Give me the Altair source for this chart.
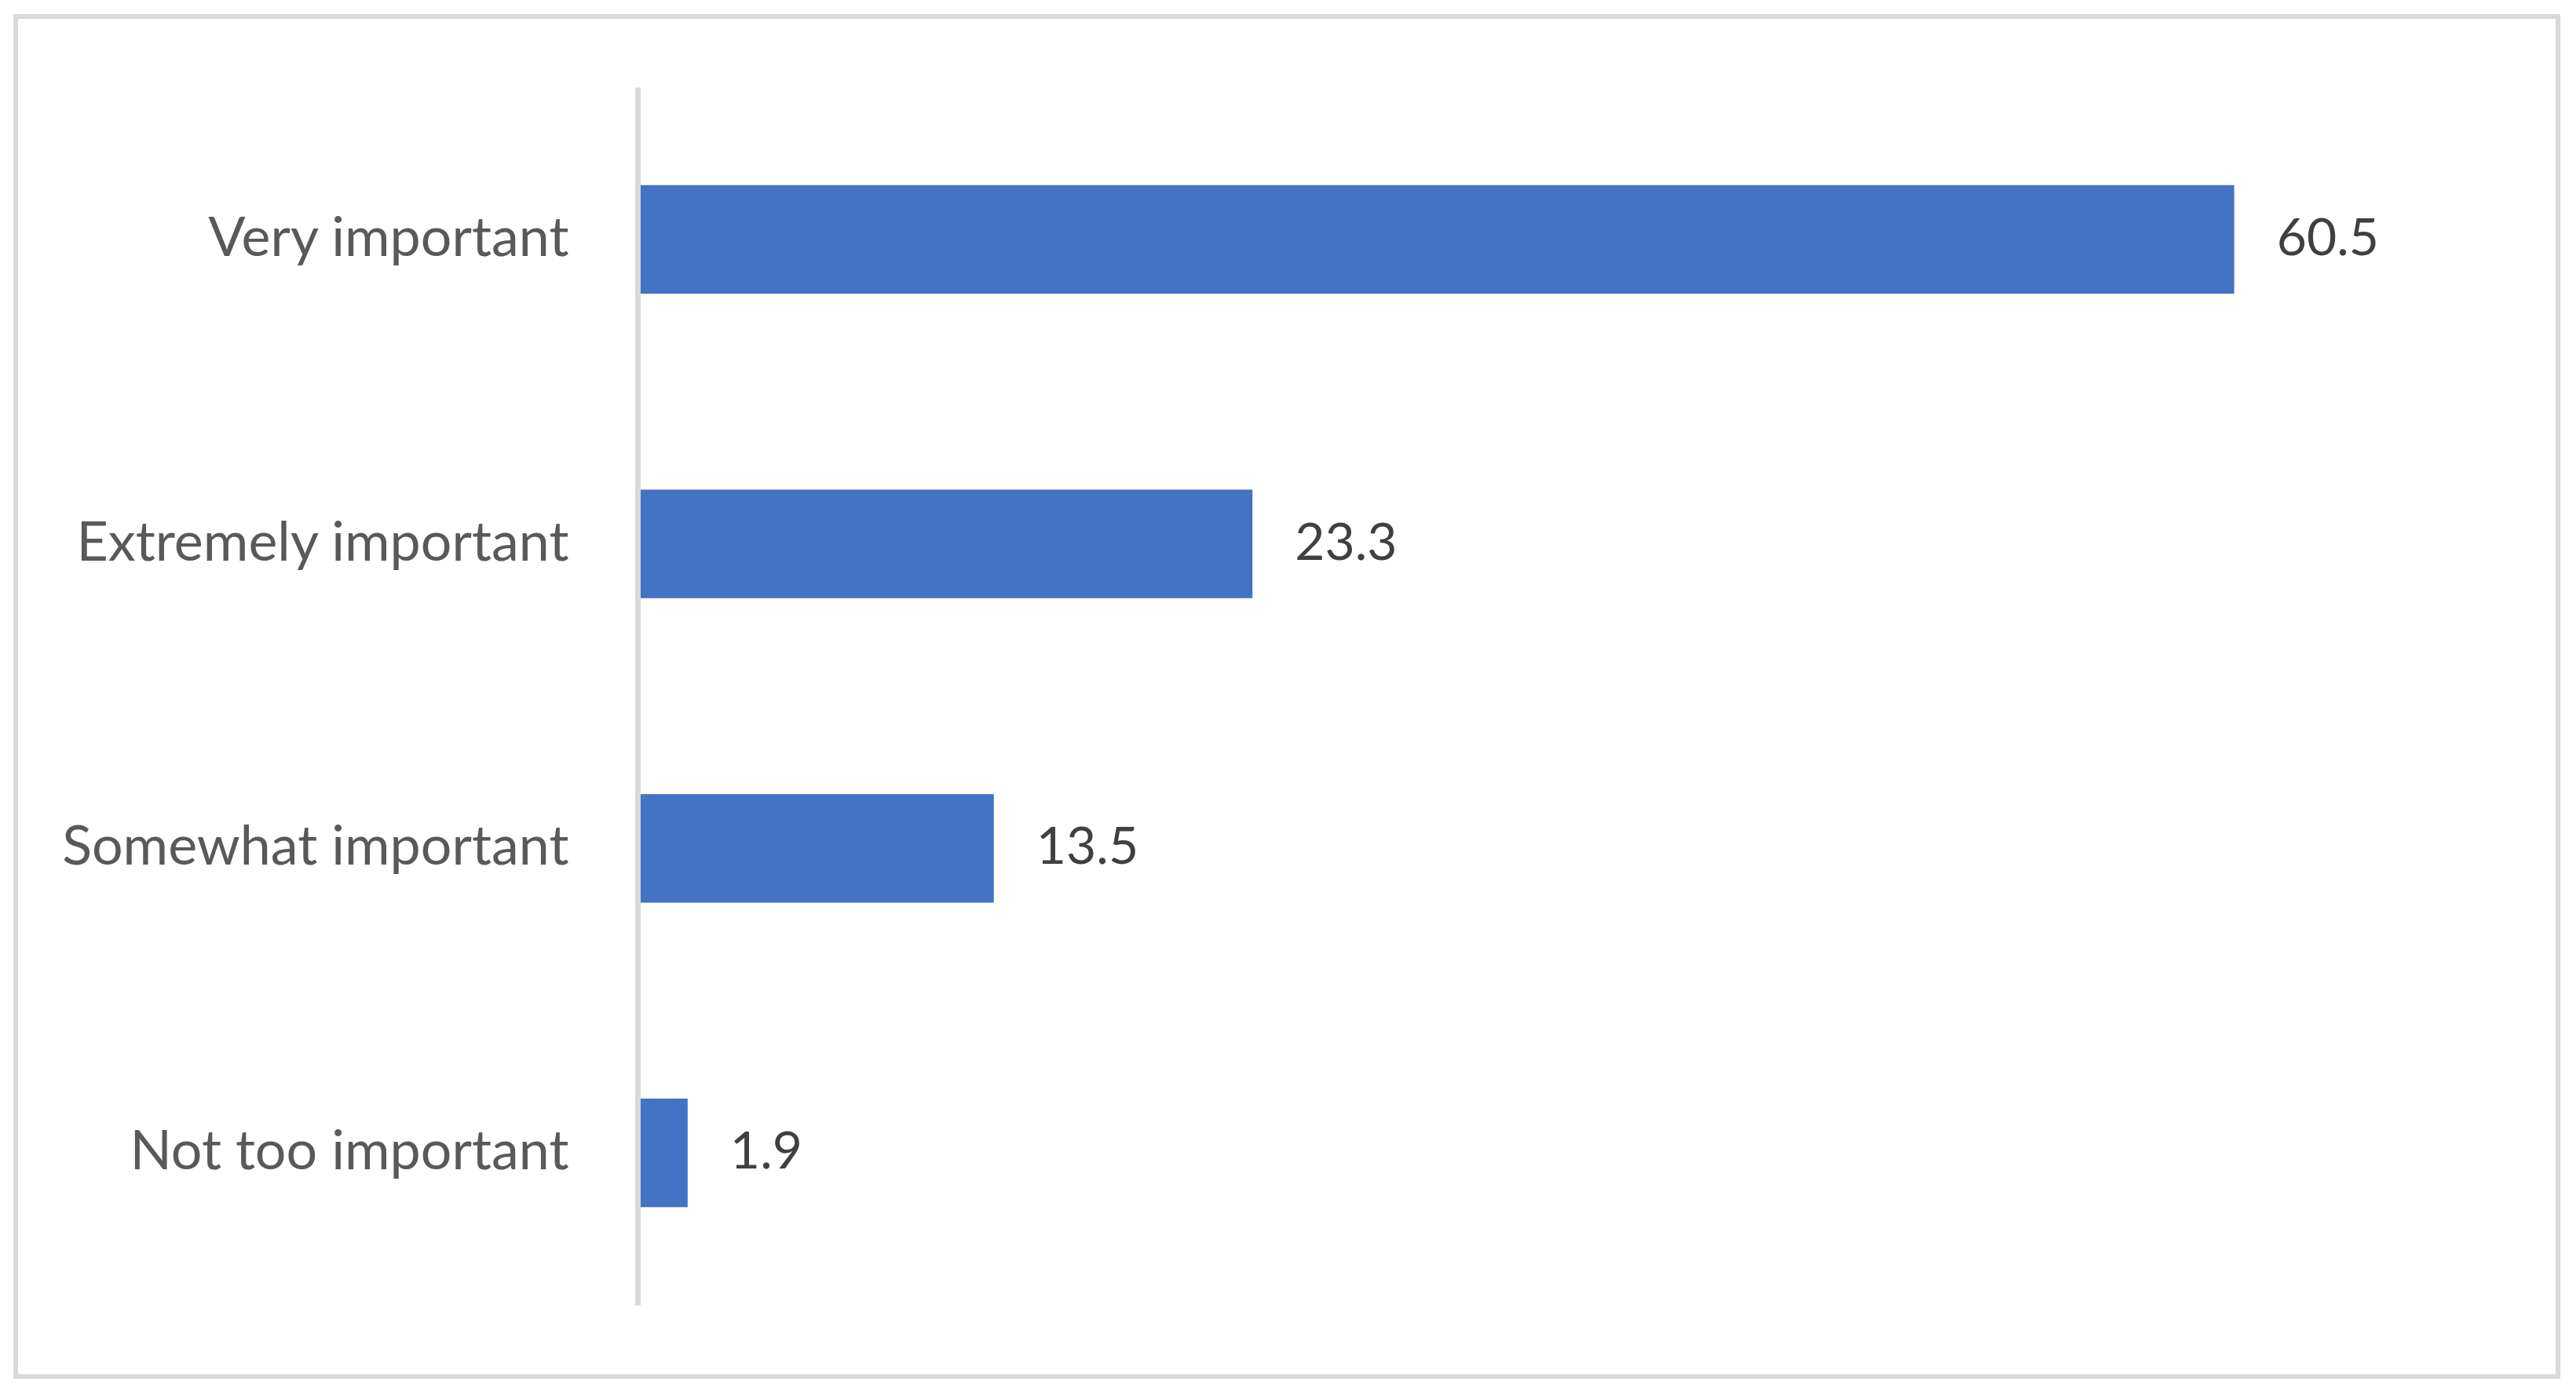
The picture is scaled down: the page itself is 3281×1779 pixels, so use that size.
import altair as alt
import pandas as pd

categories = ["Very important", "Extremely important", "Somewhat important", "Not too important"]
values = [60.5, 23.3, 13.5, 1.9]

df = pd.DataFrame({"category": categories, "value": values})

FONT = "Lato"
GRID = "#d9d9d9"

x_enc = alt.X("value:Q", scale=alt.Scale(domain=[0, 70], nice=False, zero=True), axis=None)
y_enc = alt.Y(
    "category:N",
    sort=categories,
    scale=alt.Scale(paddingInner=0.644, paddingOuter=0.322),
    axis=alt.Axis(
        title=None,
        ticks=False,
        grid=False,
        domain=True,
        domainColor=GRID,
        domainWidth=7,
        labelFont=FONT,
        labelFontSize=70,
        labelColor="#595959",
        labelPadding=88,
        labelLimit=1000,
        zindex=1,
    ),
)

bars = alt.Chart(df).mark_bar(color="#4472C4").encode(x=x_enc, y=y_enc)

labels = alt.Chart(df).mark_text(
    align="left", baseline="middle", dx=54, font=FONT, fontSize=66, color="#404040"
).encode(x=x_enc, y=y_enc, text=alt.Text("value:Q", format=".1f"))

frame = alt.Chart(df).mark_rect(fill="transparent", stroke=GRID, strokeWidth=6, clip=False).encode(
    x=alt.value(-792), x2=alt.value(2446), y=alt.value(-90), y2=alt.value(1642)
)

chart = (
    alt.layer(bars, labels, frame.transform_filter(alt.datum.category == categories[0]))
    .properties(
        width=2353,
        height=1551,
        autosize=alt.AutoSizeParams(type="none"),
        padding={"left": 804, "top": 103, "right": 108, "bottom": 109},
        view=alt.ViewBackground(stroke="transparent", strokeWidth=0),
    )
    .configure_view(stroke="transparent", strokeWidth=0)
    .configure(background="white")
)

chart.save("out.html", embed_options={"renderer": "svg", "actions": False})
